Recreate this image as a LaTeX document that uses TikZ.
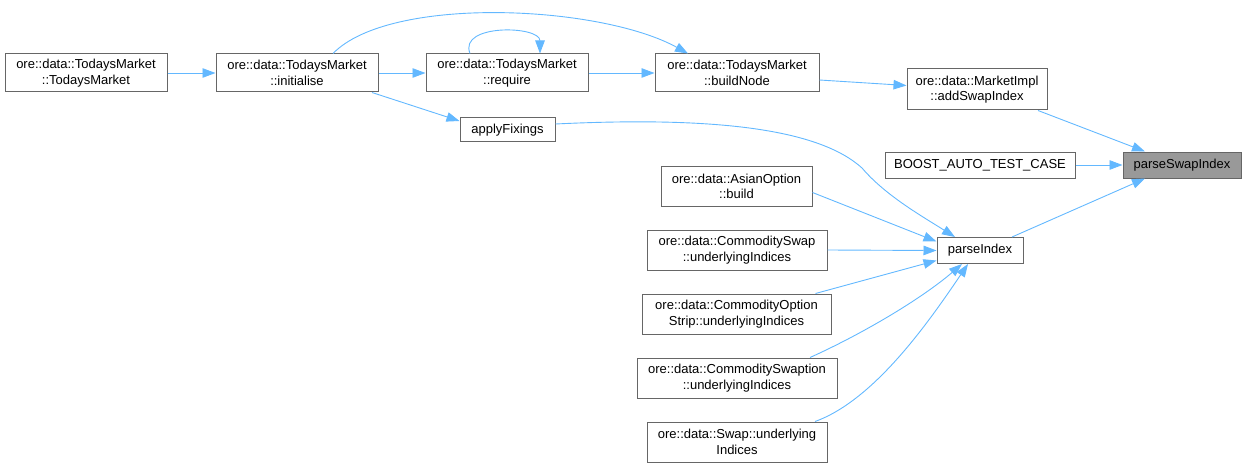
\documentclass[tikz,border=0pt]{standalone}
\usepackage{fontspec}
\setmainfont{Liberation Sans}
\usetikzlibrary{arrows.meta}
\definecolor{callblue}{HTML}{63B8FF}
\definecolor{boxgray}{HTML}{666666}
\definecolor{hitgray}{HTML}{999999}
\tikzset{
	fn/.style = {draw = boxgray, line width = 1pt, fill = white, align = center, inner sep = 2pt, font = \fontsize{13}{15.5}\selectfont},
	call/.style = {draw = callblue, line width = 0.9pt, -{Triangle[length = 13pt, width = 9.5pt]}}
}
\begin{document}
\begin{tikzpicture}[x = 1pt, y = -1pt]
		\useasboundingbox (0, 0) rectangle (1247, 468);

		% top row
		\node (ctor) at (86, 73) [fn, minimum width = 162pt, minimum height = 38pt] {ore::data::TodaysMarket\\::TodaysMarket};
		\node (init) at (297, 73) [fn, minimum width = 162pt, minimum height = 38pt] {ore::data::TodaysMarket\\::initialise};
		\node (req) at (507, 73) [fn, minimum width = 162pt, minimum height = 38pt] {ore::data::TodaysMarket\\::require};
		\node (build) at (737, 73) [fn, minimum width = 164pt, minimum height = 38pt] {ore::data::TodaysMarket\\::buildNode};
		\node (fix) at (507.5, 130) [fn, minimum width = 95pt, minimum height = 24pt] {applyFixings};

		% right side
		\node (addswap) at (977, 89.5) [fn, minimum width = 140pt, minimum height = 41pt] {ore::data::MarketImpl\\::addSwapIndex};
		\node (boost) at (980, 165) [fn, minimum width = 190pt, minimum height = 26pt] {BOOST\_AUTO\_TEST\_CASE};
		\node (target) at (1182, 165) [fn, fill = hitgray, minimum width = 118pt, minimum height = 26pt] {parseSwapIndex};
		\node (pidx) at (980, 250.5) [fn, minimum width = 86pt, minimum height = 26pt] {parseIndex};

		% callers of parseIndex
		\node (asian) at (736.5, 186.5) [fn, minimum width = 151pt, minimum height = 40pt] {ore::data::AsianOption\\::build};
		\node (cswap) at (737, 250) [fn, minimum width = 180pt, minimum height = 40pt] {ore::data::CommoditySwap\\::underlyingIndices};
		\node (cstrip) at (736.5, 314) [fn, minimum width = 189pt, minimum height = 40pt] {ore::data::CommodityOption\\Strip::underlyingIndices};
		\node (cswpt) at (737, 378) [fn, minimum width = 200pt, minimum height = 40pt] {ore::data::CommoditySwaption\\::underlyingIndices};
		\node (swap) at (737, 442) [fn, minimum width = 180pt, minimum height = 40pt] {ore::data::Swap::underlying\\Indices};

		% calls along the top
		\draw [call] (ctor.east) -- (init.west);
		\draw [call] (init.east) -- (req.west);
		\draw [call] (req.east) -- (build.west);
		\draw [call] ([xshift = 36pt]init.north) .. controls (390, -5) and (600, 5) .. ([xshift = -49pt]build.north);
		\draw [call] ([xshift = -37pt]req.north) .. controls +(-12, -30) and +(0, -28) .. ([xshift = 33pt]req.north);
		\draw [call] ([xshift = 75pt]init.south) -- ([yshift = 9pt]fix.west);
		\draw [call] ([yshift = -7pt]build.east) -- ([yshift = 4pt]addswap.west);

		% into parseSwapIndex
		\draw [call] ([xshift = 61pt]addswap.south) -- ([xshift = -37pt]target.north);
		\draw [call] (boost.east) -- (target.west);
		\draw [call] ([xshift = 32pt]pidx.north) -- ([xshift = -37pt]target.south);

		% into parseIndex
		\draw [call] ([yshift = 6pt]fix.east) .. controls (720, 116) and (820, 130) .. (862, 168) .. controls (885, 195) and (920, 215) .. ([xshift = -25pt]pidx.north);
		\draw [call] ([yshift = -6pt]asian.east) -- ([yshift = 9pt]pidx.west);
		\draw [call] (cswap.east) -- (pidx.west);
		\draw [call] ([xshift = 79pt]cstrip.north) -- ([yshift = -10pt]pidx.west);
		\draw [call] ([xshift = 73pt]cswpt.north) .. controls (860, 335) and (920, 300) .. ([xshift = -18pt]pidx.south);
		\draw [call] ([xshift = 78pt]swap.north) .. controls (875, 400) and (930, 320) .. ([xshift = -12pt]pidx.south);
\end{tikzpicture}
\end{document}
